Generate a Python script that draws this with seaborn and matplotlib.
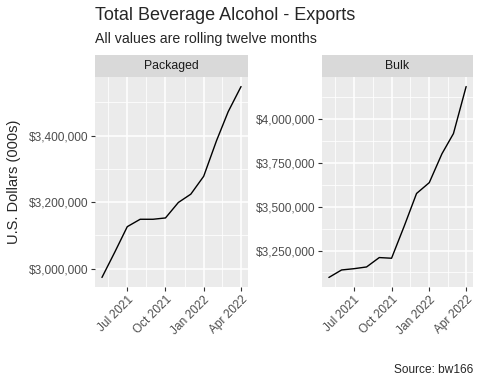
import numpy as np
import pandas as pd
import matplotlib
matplotlib.use("Agg")
import matplotlib.pyplot as plt
import matplotlib.dates as mdates
import matplotlib.ticker as mticker
import seaborn as sns

# monthly rolling twelve month export values (000s USD)
months = pd.date_range("2021-05-01", "2022-04-01", freq="MS")
packaged = [2973600, 3050000, 3126300, 3148500, 3148500, 3152500,
            3199000, 3224000, 3277700, 3385000, 3471800, 3547500]
bulk = [3096000, 3138800, 3146000, 3156000, 3209700, 3205800,
        3390000, 3576000, 3637700, 3803000, 3918000, 4187000]
panels = ["Packaged", "Bulk"]

df = pd.concat([
    pd.DataFrame({"date": months, "value": packaged, "type": "Packaged"}),
    pd.DataFrame({"date": months, "value": bulk, "type": "Bulk"}),
])

sns.set_theme(style="darkgrid")
plt.rcParams["font.family"] = ["Liberation Sans", "DejaVu Sans"]

fig = plt.figure(figsize=(4.8, 3.84), dpi=100)
W, H = 480, 384

def box(x0, y0, x1, y1):
    return [x0 / W, (H - y1) / H, (x1 - x0) / W, (y1 - y0) / H]

panel_px = {"Packaged": (95, 248), "Bulk": (322, 473)}
yticks = {"Packaged": [3000000, 3200000, 3400000],
          "Bulk": [3250000, 3500000, 3750000, 4000000]}
xmaj = pd.to_datetime(["2021-07-01", "2021-10-01", "2022-01-01", "2022-04-01"])

dmin = mdates.date2num(months[0])
dmax = mdates.date2num(months[-1])
pad = (dmax - dmin) * 0.05
xmaj_num = mdates.date2num(xmaj)
step = xmaj_num[1] - xmaj_num[0]
xmin_num = list(xmaj_num[:-1] + np.diff(xmaj_num) / 2) + [xmaj_num[0] - step / 2]

for name in panels:
    x0, x1 = panel_px[name]
    ax = fig.add_axes(box(x0, 77, x1, 287))
    sub = df[df["type"] == name]
    sns.lineplot(data=sub, x="date", y="value", color="black", linewidth=1.0, ax=ax)
    ax.set_facecolor("#EBEBEB")
    for s in ax.spines.values():
        s.set_visible(False)
    ax.set_xlim(dmin - pad, dmax + pad)
    vals = sub["value"]
    ypad = (vals.max() - vals.min()) * 0.05
    ax.set_ylim(vals.min() - ypad, vals.max() + ypad)

    ax.xaxis.set_major_locator(mticker.FixedLocator(xmaj_num))
    ax.xaxis.set_major_formatter(mdates.DateFormatter("%b %Y"))
    ax.xaxis.set_minor_locator(mticker.FixedLocator(xmin_num))
    yt = yticks[name]
    ys = yt[1] - yt[0]
    ax.yaxis.set_major_locator(mticker.FixedLocator(yt))
    ax.yaxis.set_minor_locator(mticker.FixedLocator(
        [yt[0] - ys / 2] + [v + ys / 2 for v in yt]))
    ax.yaxis.set_major_formatter(mticker.FuncFormatter(lambda v, p: f"${v:,.0f}"))

    ax.grid(which="major", color="white", linewidth=1.1)
    ax.grid(which="minor", color="white", linewidth=0.55)
    ax.set_axisbelow(True)
    ax.tick_params(which="major", length=3, width=0.8, color="#333333",
                   labelsize=8.6, labelcolor="#4D4D4D", pad=2)
    ax.tick_params(which="minor", length=0)
    ax.tick_params(axis="x", bottom=True)
    ax.tick_params(axis="y", left=True)
    for lab in ax.get_xticklabels():
        lab.set_rotation(45)
        lab.set_ha("right")
        lab.set_rotation_mode("anchor")
    ax.set_xlabel("")
    ax.set_ylabel("")

    sax = fig.add_axes(box(x0, 55, x1, 77))
    sax.set_facecolor("#D9D9D9")
    sax.set_xticks([])
    sax.set_yticks([])
    for s in sax.spines.values():
        s.set_visible(False)
    sax.text(0.5, 0.5, name, ha="center", va="center", fontsize=8.8,
             color="#1A1A1A", transform=sax.transAxes)

fig.text(95 / W, 1 - 16 / H, "Total Beverage Alcohol - Exports", fontsize=13,
         ha="left", va="center")
fig.text(95 / W, 1 - 39 / H, "All values are rolling twelve months", fontsize=10.2,
         ha="left", va="center")
fig.text(14 / W, 1 - 182 / H, "U.S. Dollars (000s)", fontsize=10.5, rotation=90,
         ha="center", va="center")
fig.text(473 / W, 1 - 370 / H, "Source: bw166", fontsize=8.6, ha="right", va="center")

fig.savefig("out.png", dpi=100)
